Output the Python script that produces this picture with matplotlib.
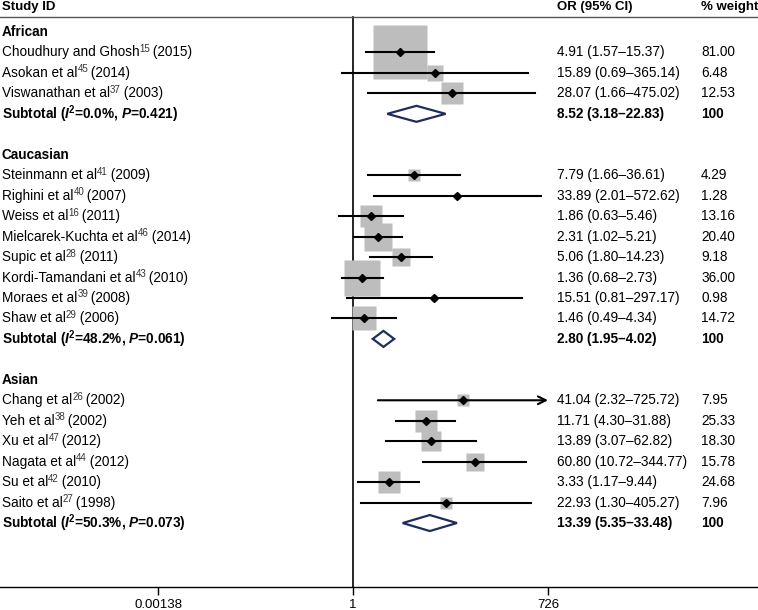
import numpy as np
import matplotlib
matplotlib.use("Agg")
import matplotlib.pyplot as plt
from matplotlib.patches import Polygon
from matplotlib.transforms import blended_transform_factory, offset_copy

plt.rcParams["font.family"] = ["Liberation Sans", "DejaVu Sans"]
plt.rcParams["mathtext.fontset"] = "custom"
plt.rcParams["mathtext.rm"] = "Liberation Sans:bold"
plt.rcParams["mathtext.it"] = "Liberation Sans:italic"
plt.rcParams["mathtext.bf"] = "Liberation Sans:bold"
plt.rcParams["mathtext.bfit"] = "Liberation Sans:bold:italic"

# DATA
groups = ["African", "Caucasian", "Asian"]
authors = [
    ["Choudhury and Ghosh", "Asokan et al", "Viswanathan et al"],
    ["Steinmann et al", "Righini et al", "Weiss et al", "Mielcarek-Kuchta et al",
     "Supic et al", "Kordi-Tamandani et al", "Moraes et al", "Shaw et al"],
    ["Chang et al", "Yeh et al", "Xu et al", "Nagata et al", "Su et al", "Saito et al"],
]
refs = [["15", "45", "37"],
        ["41", "40", "16", "46", "28", "43", "39", "29"],
        ["26", "38", "47", "44", "42", "27"]]
years = [["2015", "2014", "2003"],
         ["2009", "2007", "2011", "2014", "2011", "2010", "2008", "2006"],
         ["2002", "2002", "2012", "2012", "2010", "1998"]]
or_vals = [[4.91, 15.89, 28.07],
           [7.79, 33.89, 1.86, 2.31, 5.06, 1.36, 15.51, 1.46],
           [41.04, 11.71, 13.89, 60.80, 3.33, 22.93]]
ci_low = [[1.57, 0.69, 1.66],
          [1.66, 2.01, 0.63, 1.02, 1.80, 0.68, 0.81, 0.49],
          [2.32, 4.30, 3.07, 10.72, 1.17, 1.30]]
ci_high = [[15.37, 365.14, 475.02],
           [36.61, 572.62, 5.46, 5.21, 14.23, 2.73, 297.17, 4.34],
           [725.72, 31.88, 62.82, 344.77, 9.44, 405.27]]
weights = [["81.00", "6.48", "12.53"],
           ["4.29", "1.28", "13.16", "20.40", "9.18", "36.00", "0.98", "14.72"],
           ["7.95", "25.33", "18.30", "15.78", "24.68", "7.96"]]
sub_i2 = ["0.0", "48.2", "50.3"]
sub_p = ["0.421", "0.061", "0.073"]
sub_or = [8.52, 2.80, 13.39]
sub_low = [3.18, 1.95, 5.35]
sub_high = [22.83, 4.02, 33.48]
tick_vals = [0.00138, 1, 726]
tick_labels = ["0.00138", "1", "726"]

# LAYOUT (pixels of a 758x610 figure)
W, H = 758, 610
PX_PER_LN = 29.6
X_ONE = 353
ROW0_PX, ROW_PX = 32, 20.46
AXIS_PX = 587
box_scale = [6.0, 6.0, 4.5]  # box side px per sqrt(weight)

fig = plt.figure(figsize=(W / 100, H / 100), dpi=100)
ax = fig.add_axes([0, (H - AXIS_PX) / H, 1, AXIS_PX / H])
ax.set_xscale("log")
ax.set_xlim(np.exp(-X_ONE / PX_PER_LN), np.exp((W - X_ONE) / PX_PER_LN))
r_top = -ROW0_PX / ROW_PX
r_bot = (AXIS_PX - ROW0_PX) / ROW_PX
ax.set_ylim(r_bot, r_top)
for s in ["top", "left", "right"]:
    ax.spines[s].set_visible(False)
ax.spines["bottom"].set_linewidth(1.0)
ax.set_yticks([])
ax.set_xticks(tick_vals)
ax.set_xticklabels(tick_labels, fontsize=9.5)
ax.minorticks_off()
ax.tick_params(axis="x", length=6, width=1.0, pad=3)

trans = blended_transform_factory(ax.transAxes, ax.transData)
renderer = fig.canvas.get_renderer()
X_ID, X_OR, X_W = 2 / W, 557 / W, 701 / W
FS = 9.8
clip_lo, clip_hi = tick_vals[0], tick_vals[-1]


# TEXT WITH SMALL SUPERSCRIPT REFERENCE
def study_label(row, name, ref, year):
    t1 = ax.text(X_ID, row, name, transform=trans, fontsize=FS, va="center")
    x1 = t1.get_window_extent(renderer).x1
    t2 = ax.text(x1 / W, row, ref, fontsize=7, va="center", color="#333333",
                 transform=offset_copy(trans, fig=fig, y=3.5, units="dots"))
    x2 = t2.get_window_extent(renderer).x1
    ax.text((x2 - 1) / W, row, f" ({year})", transform=trans, fontsize=FS, va="center")


# header
hdr = (17 - ROW0_PX) / ROW_PX
head_y = (7 - ROW0_PX) / ROW_PX
ax.text(X_ID, head_y, "Study ID", transform=trans, fontsize=FS - 0.3, fontweight="bold", va="center")
ax.text(X_OR, head_y, "OR (95% CI)", transform=trans, fontsize=FS - 0.3, fontweight="bold", va="center")
ax.text(X_W, head_y, "% weight", transform=trans, fontsize=FS - 0.3, fontweight="bold", va="center")
ax.axhline(hdr, color="#555555", lw=1.0)
ax.plot([1, 1], [hdr, r_bot], color="black", lw=1.2, zorder=1)

row = 0
for g in range(len(groups)):
    ax.text(X_ID, row, groups[g], transform=trans, fontsize=FS, fontweight="bold", va="center")
    row += 1
    for i in range(len(authors[g])):
        study_label(row, authors[g][i], refs[g][i], years[g][i])
        ax.text(X_OR, row, f"{or_vals[g][i]:.2f} ({ci_low[g][i]:.2f}\u2013{ci_high[g][i]:.2f})",
                transform=trans, fontsize=FS, va="center")
        ax.text(X_W, row, weights[g][i], transform=trans, fontsize=FS, va="center")
        side = box_scale[g] * np.sqrt(float(weights[g][i])) * 0.72
        ax.plot(or_vals[g][i], row, marker="s", ms=side, color="#bdbdbd", mec="none", zorder=2)
        lo = max(ci_low[g][i], clip_lo)
        hi = ci_high[g][i]
        if hi >= clip_hi * 0.99:
            ax.annotate("", xy=(clip_hi, row), xytext=(lo, row),
                        arrowprops=dict(arrowstyle="->", lw=1.5, color="black",
                                        mutation_scale=14, shrinkA=0, shrinkB=0), zorder=3)
        else:
            ax.plot([lo, hi], [row, row], color="black", lw=1.5, zorder=3)
        ax.plot(or_vals[g][i], row, marker="D", ms=4.2, color="black", zorder=4)
        row += 1
    sub_label = (f"Subtotal ($\\mathbfit{{I}}^{{\\mathbf{{2}}}}$={sub_i2[g]}%, "
                 f"$\\mathbfit{{P}}$={sub_p[g]})")
    ax.text(X_ID, row, sub_label, transform=trans, fontsize=FS, fontweight="bold", va="center")
    ax.text(X_OR, row, f"{sub_or[g]:.2f} ({sub_low[g]:.2f}\u2013{sub_high[g]:.2f})",
            transform=trans, fontsize=FS, fontweight="bold", va="center")
    ax.text(X_W, row, "100", transform=trans, fontsize=FS, fontweight="bold", va="center")
    h = 8 / ROW_PX
    dia = Polygon([(sub_low[g], row), (sub_or[g], row - h), (sub_high[g], row), (sub_or[g], row + h)],
                  closed=True, facecolor="white", edgecolor="#1f2d5c", lw=1.6, zorder=3)
    ax.add_patch(dia)
    row += 2

fig.savefig("out.png", dpi=100)
